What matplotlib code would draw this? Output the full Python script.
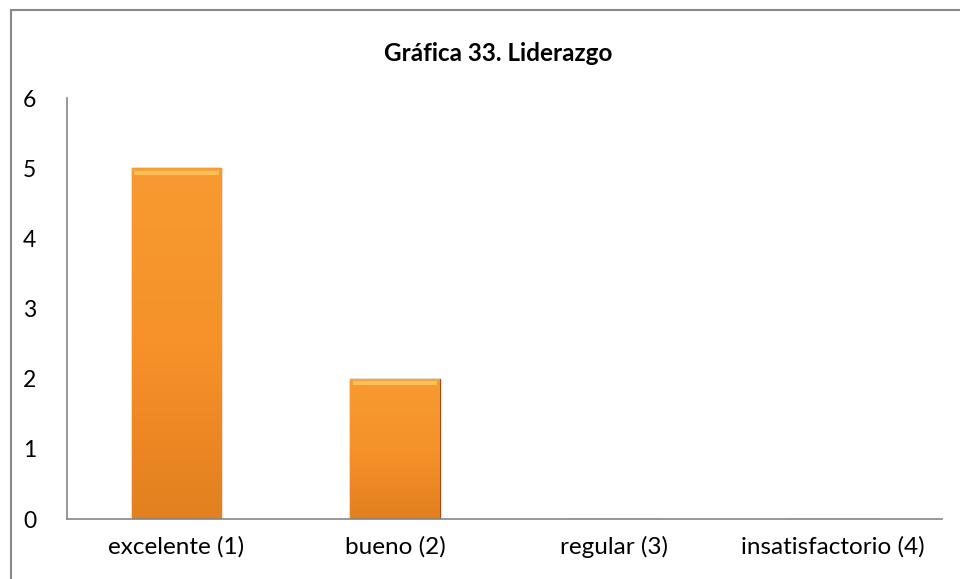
import numpy as np
import matplotlib
matplotlib.use("Agg")
import matplotlib.pyplot as plt
from matplotlib.patches import Rectangle
from matplotlib.colors import LinearSegmentedColormap

categories = ["excelente (1)", "bueno (2)", "regular (3)", "insatisfactorio (4)"]
values = [5, 2, 0, 0]
title = "Gráfica 33. Liderazgo"

plt.rcParams['font.family'] = ['Lato', 'DejaVu Sans']

fig = plt.figure(figsize=(9.6, 5.79), dpi=100)
ax = fig.add_axes([0.0698, 0.1036, 0.9115, 0.7271])

x = np.arange(len(categories))
bars = ax.bar(x, values, width=0.41, color='#F7962E', edgecolor='#9C4E16',
              linewidth=1.0, zorder=2)

# vertical gradient inside each bar
cmap = LinearSegmentedColormap.from_list('orng', ['#E3801F', '#F5922A', '#F89A31'])
grad = np.linspace(0, 1, 256).reshape(-1, 1)
for b, v in zip(bars, values):
    if v <= 0:
        continue
    x0, w = b.get_x(), b.get_width()
    im = ax.imshow(grad, cmap=cmap, origin='lower', aspect='auto',
                   extent=(x0, x0 + w, 0, v), zorder=2.5)
    im.set_clip_path(b)
    # light bevel at the top
    ax.bar(b.get_x() + w / 2, 0.07, bottom=v - 0.09, width=w * 0.94,
           color='#FBBF55', linewidth=0, zorder=3)
    ax.bar(b.get_x() + w / 2, 0.03, bottom=v - 0.04, width=w * 0.98,
           color='#F2A440', linewidth=0, zorder=3)

ax.set_xlim(-0.5, len(categories) - 0.5)
ax.set_ylim(0, 6)
ax.set_yticks(range(0, 7))
ax.set_xticks(x)
ax.set_xticklabels(categories, fontsize=17.5)
ax.tick_params(axis='both', length=0, colors='black')
ax.tick_params(axis='y', labelsize=16.5, pad=22)
ax.tick_params(axis='x', pad=12)
for s in ['top', 'right']:
    ax.spines[s].set_visible(False)
for s in ['left', 'bottom']:
    ax.spines[s].set_color('#868686')
    ax.spines[s].set_linewidth(1.2)

fig.text(0.519, 0.908, title, ha='center', va='center', fontsize=17.5,
         fontweight='bold')

fig.patches.append(Rectangle((0.011, -0.02), 1.0, 1.0 - 0.0181 + 0.02,
                             transform=fig.transFigure, fill=False,
                             edgecolor='#888888', linewidth=1.5))

fig.savefig('out.png', dpi=100)
